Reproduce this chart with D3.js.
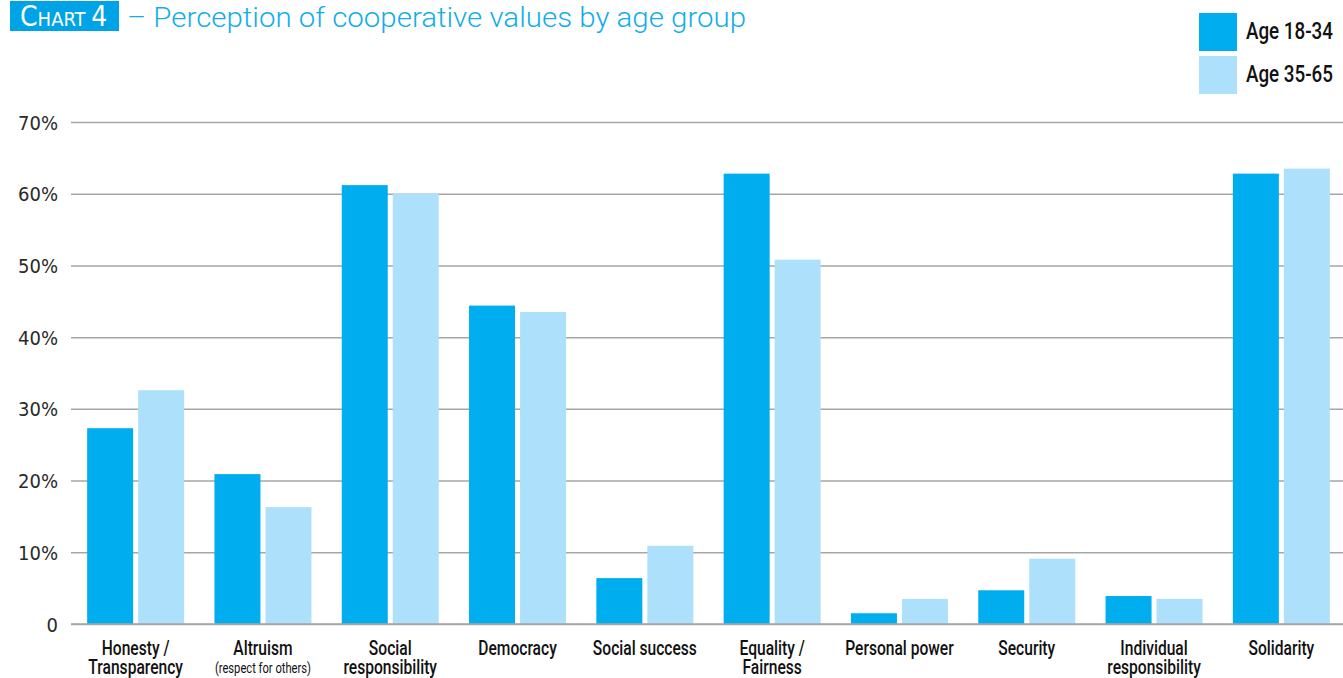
<!DOCTYPE html>
<html>
<head>
<meta charset="utf-8">
<script src="https://cdn.jsdelivr.net/npm/d3@7"></script>
<style>
  html, body { margin: 0; padding: 0; background: #fff; }
  svg { display: block; }
  text { font-family: "Roboto", "DejaVu Sans Condensed", sans-serif; }
</style>
</head>
<body>
<svg id="chart" width="1343" height="678"></svg>
<script>
// Categories (lines of each x label), series and values (%)
const categories = [
  "Honesty / Transparency", "Altruism", "Social responsibility", "Democracy",
  "Social success", "Equality / Fairness", "Personal power", "Security",
  "Individual responsibility", "Solidarity"
];
const labelLines = [
  ["Honesty /", "Transparency"], ["Altruism"], ["Social", "responsibility"], ["Democracy"],
  ["Social success"], ["Equality /", "Fairness"], ["Personal power"], ["Security"],
  ["Individual", "responsibility"], ["Solidarity"]
];
const subLabels = ["", "(respect for others)", "", "", "", "", "", "", "", ""];
const seriesNames = ["Age 18-34", "Age 35-65"];
const age18to34 = [27.3, 20.9, 61.2, 44.4, 6.4, 62.8, 1.5, 4.7, 3.9, 62.8];
const age35to65 = [32.6, 16.3, 60.0, 43.5, 10.9, 50.8, 3.5, 9.1, 3.5, 63.5];
const yTicks = [0, 10, 20, 30, 40, 50, 60, 70];
const colors = ["#00aeef", "#ade1fb"];

const svg = d3.select("#chart");
const condense = 0.8; // horizontal squeeze for the narrow label face

const x = d3.scaleBand().domain(categories).range([72, 1345])
  .paddingInner(0.238).paddingOuter(0.119);
const xs = d3.scaleBand().domain(seriesNames).range([0, x.bandwidth()])
  .paddingInner(0.098).paddingOuter(0);
const y = d3.scaleLinear().domain([0, 70]).range([624, 122]);

// gridlines + y labels
const yAxis = d3.axisLeft(y).tickValues(yTicks)
  .tickFormat(d => d === 0 ? "0" : d + "%")
  .tickSize(-(1343 - 71)).tickPadding(13);
const gy = svg.append("g").attr("transform", "translate(71,0)").call(yAxis);
gy.select(".domain").remove();
gy.selectAll(".tick line").attr("stroke", "#a6a6a6").attr("stroke-width", 1.5);
gy.selectAll(".tick text").attr("fill", "#2a2a2a").style("font-size", "20px")
  .style("font-family", "'DejaVu Sans Condensed', sans-serif").style("font-weight", "300")
  .attr("dy", "0.35em");

// bars
const data = categories.map((c, i) => ({ c, vals: [age18to34[i], age35to65[i]] }));
const groups = svg.append("g").selectAll("g").data(data).join("g")
  .attr("transform", d => `translate(${x(d.c)},0)`);
groups.selectAll("rect").data(d => d.vals.map((v, k) => ({ s: seriesNames[k], v, k })))
  .join("rect")
  .attr("x", d => xs(d.s))
  .attr("width", xs.bandwidth())
  .attr("y", d => y(d.v))
  .attr("height", d => y(0) - y(d.v))
  .attr("fill", d => colors[d.k]);

// baseline redrawn over bars
svg.append("line").attr("x1", 71).attr("x2", 1343).attr("y1", y(0)).attr("y2", y(0))
  .attr("stroke", "#a6a6a6").attr("stroke-width", 1.5);

// x labels
const xl = svg.append("g").selectAll("g").data(categories).join("g")
  .attr("transform", c => `translate(${x(c) + x.bandwidth() / 2},655) scale(${condense},1)`)
  .append("text")
  .attr("text-anchor", "middle")
  .attr("fill", "#111")
  .style("font-size", "19.5px")
  .style("font-weight", "500");
xl.each(function (c, i) {
  const t = d3.select(this);
  labelLines[i].forEach((line, j) => {
    t.append("tspan").attr("x", 0).attr("dy", j === 0 ? 0 : 19.5).text(line);
  });
  if (subLabels[i]) {
    t.append("tspan").attr("x", 0).attr("dy", 18.5)
      .style("font-size", "14px").style("font-weight", "400").text(subLabels[i]);
  }
});

// title
svg.append("rect").attr("x", 10).attr("y", 1).attr("width", 109).attr("height", 30).attr("fill", "#00a3e6");
const tt = svg.append("text").attr("x", 20).attr("y", 26).attr("fill", "#fff")
  .style("font-family", "'DejaVu Sans Condensed', sans-serif").style("font-weight", "300");
tt.append("tspan").style("font-size", "28px").text("C");
tt.append("tspan").style("font-size", "20px").text("HART ");
tt.append("tspan").style("font-size", "28px").text("4");
svg.append("text").attr("x", 127).attr("y", 27).attr("fill", "#12ade8")
  .style("font-size", "28.5px").style("font-weight", "300")
  .attr("textLength", 619).attr("lengthAdjust", "spacingAndGlyphs")
  .text("– Perception of cooperative values by age group");

// legend
const lg = svg.append("g").selectAll("g").data(seriesNames).join("g")
  .attr("transform", (d, i) => `translate(1199,${13 + i * 43})`);
lg.append("rect").attr("width", 38).attr("height", 38).attr("fill", (d, i) => colors[i]);
lg.append("g").attr("transform", `translate(47,26) scale(${condense},1)`)
  .append("text").attr("fill", "#111")
  .style("font-size", "23.5px").style("font-weight", "500").text(d => d);
</script>
</body>
</html>
